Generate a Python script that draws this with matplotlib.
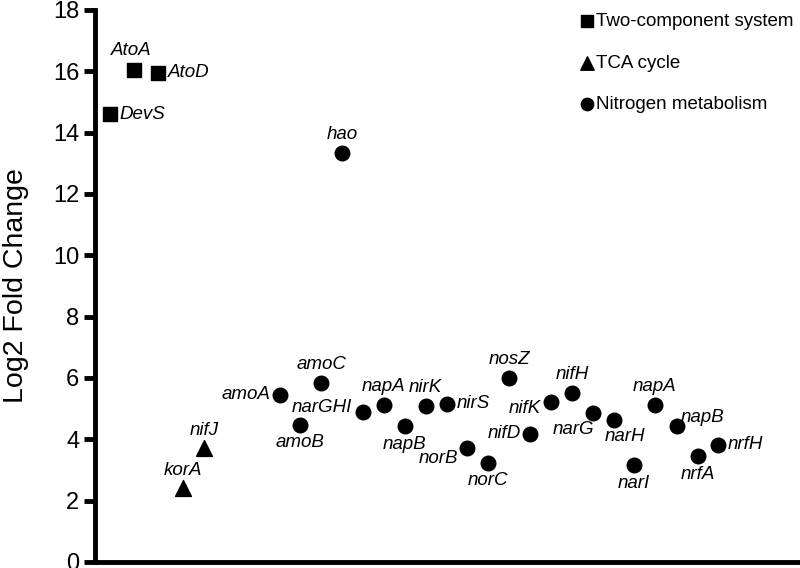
import matplotlib.pyplot as plt

plt.rcParams['font.family'] = ['Liberation Sans', 'DejaVu Sans']

# Two-component system genes
tcs_genes = ['DevS', 'AtoA', 'AtoD']
tcs_x = [0.7, 1.85, 3.0]
tcs_fc = [14.6, 16.05, 15.95]

# TCA cycle genes
tca_genes = ['korA', 'nifJ']
tca_x = [4.2, 5.2]
tca_fc = [2.4, 3.7]

# Nitrogen metabolism genes
nit_genes = ['amoA', 'amoB', 'amoC', 'hao', 'narGHI', 'napA', 'napB', 'nirK',
             'nirS', 'norB', 'norC', 'nosZ', 'nifD', 'nifK', 'nifH', 'narG',
             'narH', 'narI', 'napA', 'napB', 'nrfA', 'nrfH']
nit_x = [8.85, 9.8, 10.8, 11.8, 12.8, 13.8, 14.8, 15.8, 16.8, 17.8, 18.8,
         19.8, 20.8, 21.8, 22.8, 23.8, 24.8, 25.75, 26.75, 27.8, 28.8, 29.8]
nit_fc = [5.45, 4.48, 5.84, 13.35, 4.9, 5.12, 4.44, 5.09, 5.16, 3.73, 3.24,
          6.0, 4.18, 5.22, 5.51, 4.87, 4.64, 3.15, 5.13, 4.44, 3.44, 3.83]

# label placement: (dx, dy) in points, ha, va
R = ((7, 0), 'left', 'center')
L = ((-7, 0), 'right', 'center')
U = ((0, 7), 'center', 'bottom')
D = ((0, -7), 'center', 'top')
tcs_pos = [R, ((-2, 8), 'center', 'bottom'), R]
tca_pos = [U, U]
nit_pos = [L, D, U, U, ((-8, 3), 'right', 'center'), U, D, U, R,
           ((-7, -8), 'right', 'center'), D, U, L, ((-7, -5), 'right', 'center'),
           U, ((-14, -6), 'center', 'top'), ((8, -6), 'center', 'top'), D, U,
           ((3, 6), 'left', 'center'), D, R]

fig = plt.figure(figsize=(8, 5.68), dpi=100)
ax = fig.add_axes([0.119, 0.0106, 0.881, 0.972])

ax.scatter(tcs_x, tcs_fc, marker='s', s=115, color='black', label='Two-component system')
ax.scatter(tca_x, tca_fc, marker='^', s=130, color='black', label='TCA cycle')
ax.scatter(nit_x, nit_fc, marker='o', s=110, color='black', label='Nitrogen metabolism')

for genes, xs, ys, pos in [(tcs_genes, tcs_x, tcs_fc, tcs_pos),
                           (tca_genes, tca_x, tca_fc, tca_pos),
                           (nit_genes, nit_x, nit_fc, nit_pos)]:
    for g, x, y, (off, ha, va) in zip(genes, xs, ys, pos):
        ax.annotate(g, (x, y), xytext=off, textcoords='offset points',
                    ha=ha, va=va, fontsize=13.5, style='italic')

ax.set_xlim(0, 33.7)
ax.set_ylim(0, 18)
ax.set_yticks(range(0, 19, 2))
ax.set_xticks([])
ax.tick_params(axis='y', labelsize=17, width=3.5, length=8)
ax.set_ylabel('Log2 Fold Change', fontsize=20.5)
ax.yaxis.set_label_coords(-0.094, 0.5)
for side in ['top', 'right']:
    ax.spines[side].set_visible(False)
for side in ['left', 'bottom']:
    ax.spines[side].set_linewidth(3.5)

ax.legend(loc='upper left', bbox_to_anchor=(0.66, 1.025), frameon=False,
          fontsize=13.5, handletextpad=0.0, handlelength=1.0,
          labelspacing=1.3, markerscale=0.85)

fig.savefig('out.png', dpi=100)
